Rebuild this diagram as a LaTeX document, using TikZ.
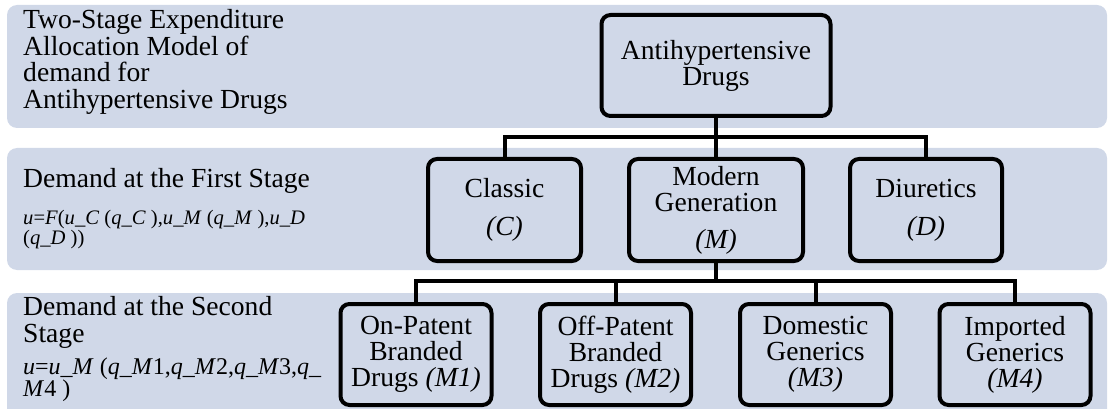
\documentclass[tikz,border=0pt]{standalone}
\usepackage{fontspec}
\setmainfont{Liberation Serif}
\definecolor{bandcol}{HTML}{D0D8E8}
\tikzset{
  band/.style={fill=bandcol},
  box/.style={draw=black, line width=4pt, rounded corners=9pt, fill=bandcol, align=center, inner sep=0pt,
    font=\fontsize{27.6}{26}\selectfont},
  lbl/.style={anchor=north west, align=left, inner sep=0pt, font=\fontsize{27.6}{26.7}\selectfont},
  conn/.style={draw=black, line width=4pt},
}
\begin{document}
\begin{tikzpicture}[x=1pt,y=-1pt]
\useasboundingbox (0,0) rectangle (1109,409);
% bands
\path[band, rounded corners=10pt] (7,5) rectangle (1107,128);
\path[band, rounded corners=10pt] (7,148) rectangle (1107,270);
\fill[bandcol] (7,409) [rounded corners=10pt] -- (7,293) -- (1107,293) [sharp corners] -- (1107,409) -- cycle;
% left labels
\node[lbl] (title) at (23,9) {Two-Stage Expenditure\\Allocation Model of\\demand for\\Antihypertensive Drugs};
\node[lbl] (first) at (23,168) {Demand at the First Stage};
\node[lbl, font=\fontsize{20.6}{17}\selectfont] (firsteq) at (23,210.5)
  {\textit{u}=\textit{F}(\textit{u\_C} (\textit{q\_C} ),\textit{u\_M} (\textit{q\_M} ),\textit{u\_D}\\(\textit{q\_D} ))};
\node[lbl] (second) at (23,296) {Demand at the Second\\Stage};
\node[lbl, font=\fontsize{24}{22}\selectfont] (secondeq) at (23,358)
  {\textit{u}=\textit{u\_M} (\textit{q\_M}1,\textit{q\_M}2,\textit{q\_M}3,\textit{q\_}\\\textit{M}4 )};
% boxes
\node[box, minimum width=229pt, minimum height=101pt] (top) at (716,65.5) {Antihypertensive\\Drugs};
\node[box, minimum width=153pt, minimum height=102pt] (classic) at (504.5,210) {Classic\\[12pt]\textit{(C)}};
\node[box, minimum width=174pt, minimum height=102pt] (modern) at (716,210) {Modern\\Generation\\[11pt]\textit{(M)}};
\node[box, minimum width=152pt, minimum height=102pt] (diur) at (926,210) {Diuretics\\[12pt]\textit{(D)}};
\node[box, minimum width=151pt, minimum height=101pt] (m1) at (416,354.5) {On-Patent\\Branded\\Drugs \textit{(M1)}};
\node[box, minimum width=151pt, minimum height=101pt] (m2) at (615.5,354.5) {Off-Patent\\Branded\\Drugs \textit{(M2)}};
\node[box, minimum width=151pt, minimum height=101pt] (m3) at (815.5,354.5) {Domestic\\Generics\\\textit{(M3)}};
\node[box, minimum width=151pt, minimum height=101pt] (m4) at (1015,354.5) {Imported\\Generics\\\textit{(M4)}};
% connectors
\coordinate (bus1) at (716,137);
\coordinate (bus2) at (716,281);
\draw[conn] (top.south) -- (modern.north);
\draw[conn] (classic.north) |- (bus1) -| (diur.north);
\draw[conn] (modern.south) -- (bus2);
\draw[conn] (m1.north) |- (bus2) -| (m4.north);
\draw[conn] (bus2 -| m2.north) -- (m2.north);
\draw[conn] (bus2 -| m3.north) -- (m3.north);
\end{tikzpicture}
\end{document}
